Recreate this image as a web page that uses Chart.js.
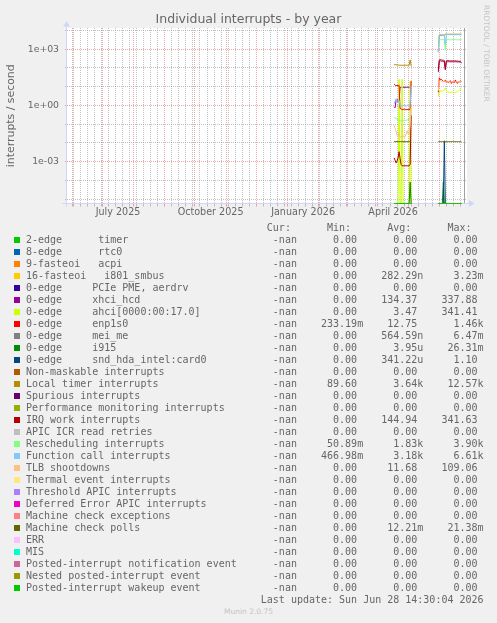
<!DOCTYPE html>
<html><head><meta charset="utf-8">
<title>Individual interrupts - by year</title>
<script src="https://cdn.jsdelivr.net/npm/chart.js@4.4.1/dist/chart.umd.min.js"></script>
<style>
html,body{margin:0;padding:0;background:#f0f0f0;}
#wrap{position:relative;width:497px;height:623px;overflow:hidden;background:#f0f0f0;}
#chart{position:absolute;left:0;top:0;}
.lg{position:absolute;left:26px;height:12px;line-height:12px;font-family:"DejaVu Sans Mono",monospace;font-size:10px;color:#666;white-space:pre;}
.sw{position:absolute;left:14px;width:6px;height:6px;}
#munin{position:absolute;left:0;width:497px;top:606px;height:12px;line-height:12px;text-align:center;font-family:"DejaVu Sans",sans-serif;font-size:7.5px;color:#c4c4c4;}
</style></head>
<body>
<div id="wrap">
<canvas id="chart" width="497" height="225"></canvas>
<div id="legend"></div>
<div id="munin">Munin 2.0.75</div>
</div>
<script>
// ---------- texts ----------
const chartTitle = 'Individual interrupts - by year';
const yAxisTitle = 'interrupts / second';
const watermark = 'RRDTOOL / TOBI OETIKER';
const lastUpdate = 'Last update: Sun Jun 28 14:30:04 2026';

// ---------- tick labels ----------
const xTickLabels = ['July 2025', 'October 2025', 'January 2026', 'April 2026'];
const xTickMonths = ['2025-07-01', '2025-10-01', '2026-01-01', '2026-04-01'];
const yTickValues = [1e3, 1, 1e-3];
const yTickLabels = ['1e+03', '1e+00', '1e-03'];

// ---------- series ----------
const seriesNames = [
  '2-edge      timer', '8-edge      rtc0', '9-fasteoi   acpi', '16-fasteoi   i801_smbus',
  '0-edge     PCIe PME, aerdrv', '0-edge     xhci_hcd', '0-edge     ahci[0000:00:17.0]',
  '0-edge     enp1s0', '0-edge     mei_me', '0-edge     i915', '0-edge     snd_hda_intel:card0',
  'Non-maskable interrupts', 'Local timer interrupts', 'Spurious interrupts',
  'Performance monitoring interrupts', 'IRQ work interrupts', 'APIC ICR read retries',
  'Rescheduling interrupts', 'Function call interrupts', 'TLB shootdowns',
  'Thermal event interrupts', 'Threshold APIC interrupts', 'Deferred Error APIC interrupts',
  'Machine check exceptions', 'Machine check polls', 'ERR', 'MIS',
  'Posted-interrupt notification event', 'Nested posted-interrupt event', 'Posted-interrupt wakeup event'
];
const seriesColors = ['#00CC00','#0066B3','#FF8000','#FFCC00','#330099','#990099','#CCFF00','#FF0000',
  '#808080','#008F00','#00487D','#B35A00','#B38F00','#6B006B','#8FB300','#B30000','#BEBEBE','#80FF80',
  '#80C9FF','#FFC080','#FFE680','#AA80FF','#EE00CC','#FF8080','#666600','#FFBFFF','#00FFCC','#CC6699',
  '#999900','#00CC00'];

// legend statistics
const legendCur = ['-nan','-nan','-nan','-nan','-nan','-nan','-nan','-nan','-nan','-nan','-nan','-nan','-nan','-nan','-nan',
  '-nan','-nan','-nan','-nan','-nan','-nan','-nan','-nan','-nan','-nan','-nan','-nan','-nan','-nan','-nan'];
const legendMin = ['0.00','0.00','0.00','0.00','0.00','0.00','0.00','233.19m','0.00','0.00','0.00','0.00','89.60','0.00','0.00',
  '0.00','0.00','50.89m','466.98m','0.00','0.00','0.00','0.00','0.00','0.00','0.00','0.00','0.00','0.00','0.00'];
const legendAvg = ['0.00','0.00','0.00','282.29n','0.00','134.37','3.47','12.75','564.59n','3.95u','341.22u','0.00','3.64k','0.00','0.00',
  '144.94','0.00','1.83k','3.18k','11.68','0.00','0.00','0.00','0.00','12.21m','0.00','0.00','0.00','0.00','0.00'];
const legendMax = ['0.00','0.00','0.00','3.23m','0.00','337.88','341.41','1.46k','6.47m','26.31m','1.10','0.00','12.57k','0.00','0.00',
  '341.63','0.00','3.90k','6.61k','109.06','0.00','0.00','0.00','0.00','21.38m','0.00','0.00','0.00','0.00','0.00'];

// ---------- time points (daily) ----------
const daysA = ['2026-04-17','2026-04-18','2026-04-19','2026-04-20','2026-04-21','2026-04-22','2026-04-23','2026-04-24',
  '2026-04-25','2026-04-26','2026-04-27','2026-04-28','2026-04-29','2026-04-30','2026-05-01','2026-05-02','2026-05-03','2026-05-04'];
const daysB = ['2026-05-31','2026-06-01','2026-06-02','2026-06-03','2026-06-04','2026-06-05','2026-06-06','2026-06-07',
  '2026-06-08','2026-06-09','2026-06-10','2026-06-11','2026-06-12','2026-06-13','2026-06-14','2026-06-15','2026-06-16',
  '2026-06-17','2026-06-18','2026-06-19','2026-06-20','2026-06-21','2026-06-22','2026-06-23'];
const gapDay = '2026-05-18';
const vruleDay = '2026-06-26';

// ---------- values (interrupts / second) ----------
const zerosA = [0,0,0,0,0,0,0,0,0,0,0,0,0,0,0,0,0,0];
const zerosB = [0,0,0,0,0,0,0,0,0,0,0,0,0,0,0,0,0,0,0,0,0,0,0,0];
const xhciA = [0.85,0.75,1.9,2.2,1.5,1.6,9.3,9.4,9.3,9.3,9.2,9.3,9.3,9.4,9.3,9.2,9.3,12];
const xhciB = [60,230,240,230,230,220,220,80,220,215,215,215,215,215,215,215,215,215,215,210,210,210,205,190];
const ahciA = [0,0,0,0,0,25,0,0,25,0,0,0,0,0,0,0,20,0];
const ahciB = [2.9,6,6,5.8,5.9,6.2,7,8.3,6,5.5,5.2,5,5,5.2,5,4.9,5,5,5.2,5.5,6,6.5,7.5,9];
const enpA = [14,12.5,11,12,11,12,0.7,0.65,0.6,0.6,0.65,0.6,0.6,0.6,0.62,0.6,0.6,20];
const enpB = [5,30,24,25,22,19,20,22,17,20,16,19,21,15,18,19,16,23,17,15,19,18,20,19];
const i915A = [0,0,0,0,0,0,0,0,0,0,0,0,0,0,0,0,0.00008,0];
const i915B = [0,0,0,0,0,0.00008,0,0,0,0,0,0,0,0,0,0,0,0,0,0,0,0,0,0];
const sndB = [0,0,0,0,0,0,0.013,0,0,0,0,0,0,0,0,0,0,0,0,0,0,0,0,0];
const localA = [150,150,150,145,145,140,140,140,140,140,140,140,140,140,140,140,270,130];
const localB = [700,5500,5500,5500,5600,5600,5800,6300,6400,6400,6400,6300,6400,6400,6400,6300,6400,6400,6400,6400,6400,6300,6400,6400];
const irqA = [0.0016,0.0012,0.00085,0.0011,0.0016,0.0034,0.0015,0.0007,0.0006,0.0006,0.0006,0.0006,0.0006,0.0006,0.0006,0.0006,0.0007,0.3];
const irqB = [80,270,280,270,260,260,250,90,240,250,250,240,240,240,240,240,240,240,235,235,230,230,225,200];
const reschedA = [0.24,0.22,0.2,0.18,0.17,0.16,0.15,0.15,0.15,0.15,0.16,0.16,0.16,0.17,0.17,0.19,0.2,0.6];
const reschedB = [700,3300,3300,3200,3300,3300,3300,900,3300,3300,3300,3200,3200,3200,3300,3300,3300,3300,3200,3200,3200,3300,3300,3300];
const funcA = [1.2,1.7,2.3,1.8,2.0,1.9,1.0,0.9,0.95,1.0,1.0,0.95,0.9,1.0,1.05,1.0,1.0,12];
const funcB = [700,6300,6300,6200,6100,6000,6000,1800,6000,6100,6000,6000,6000,6000,6000,6000,6000,6000,6000,6000,6000,6000,6000,6000];
const tlbA = [0.09,0.06,0.04,0.025,0.022,0.035,0.02,0.022,0.02,0.025,0.02,0.022,0.03,0.045,0.03,0.03,0.1,1.0];
const tlbB = [6,20,21,20,19,19,20,19,18,19,18,18,18,18,18,19,18,18,18,18,19,19,19,19];
const mcpA = [0.0117,0.0117,0.0117,0.0117,0.0117,0.0117,0.0117,0.0117,0.0117,0.0117,0.0117,0.0117,0.0117,0.0117,0.0117,0.0117,0.0117,0.0117];
const mcpB = [0.0117,0.0117,0.0117,0.0117,0.0117,0.0117,0.0117,0.0117,0.0117,0.0117,0.0117,0.0117,0.0117,0.0117,0.0117,0.0117,0.0117,0.0117,0.0117,0.0117,0.0117,0.0117,0.0117,0.0117];

const seriesValues = [
  [zerosA, zerosB], [zerosA, zerosB], [zerosA, zerosB], [zerosA, zerosB], [zerosA, zerosB],
  [xhciA, xhciB], [ahciA, ahciB], [enpA, enpB], [zerosA, zerosB], [i915A, i915B], [zerosA, sndB],
  [zerosA, zerosB], [localA, localB], [zerosA, zerosB], [zerosA, zerosB], [irqA, irqB], [zerosA, zerosB],
  [reschedA, reschedB], [funcA, funcB], [tlbA, tlbB], [zerosA, zerosB], [zerosA, zerosB], [zerosA, zerosB],
  [zerosA, zerosB], [mcpA, mcpB], [zerosA, zerosB], [zerosA, zerosB], [zerosA, zerosB], [zerosA, zerosB], [zerosA, zerosB]
];

// ---------- helpers ----------
const DAY = 86400000;
function ms(s) { const p = s.split('-').map(Number); return Date.UTC(p[0], p[1] - 1, p[2]); }
const xMin = Date.UTC(2025, 4, 26, 17, 30);
const xMax = Date.UTC(2026, 5, 28, 13, 0);
const yMin = Math.pow(10, -5.235);
const yMax = Math.pow(10, 4.135);
const MAJOR = 'rgba(222,79,79,0.5)';
const MINOR = 'rgba(143,143,143,0.55)';

function toPoints(a, b) {
  const out = [];
  daysA.forEach((d, i) => out.push({ x: ms(d), y: a[i] === 0 ? yMin : a[i] }));
  out.push({ x: ms(gapDay), y: null });
  daysB.forEach((d, i) => out.push({ x: ms(d), y: b[i] === 0 ? yMin : b[i] }));
  return out;
}

const N = seriesNames.length;
const datasets = seriesNames.map((name, i) => ({
  label: name,
  data: toPoints(seriesValues[i][0], seriesValues[i][1]),
  borderColor: seriesColors[i],
  backgroundColor: seriesColors[i],
  borderWidth: 1,
  pointRadius: 0,
  fill: false,
  spanGaps: false,
  tension: 0,
  order: N - 1 - i,
  clip: { left: 1, right: 1, top: 1, bottom: 1 }
}));

function buildXTicks(scale) {
  const lo = scale.min, hi = scale.max, out = [];
  for (let m = 0; m < 16; m++) {
    const v = Date.UTC(2025, 4 + m, 1);
    if (v >= lo && v <= hi) out.push({ value: v, kind: 'major' });
  }
  for (let v = Date.UTC(2025, 4, 26); v <= hi; v += 7 * DAY) {
    if (v < lo) continue;
    if (new Date(v).getUTCDate() !== 1) out.push({ value: v, kind: 'minor' });
  }
  xTickMonths.forEach((s, i) => {
    const a = ms(s); const d = new Date(a);
    const b = Date.UTC(d.getUTCFullYear(), d.getUTCMonth() + 1, 1);
    out.push({ value: (a + b) / 2, kind: 'label', text: xTickLabels[i] });
  });
  out.sort((p, q) => p.value - q.value);
  scale.ticks = out;
}
function buildYTicks(scale) {
  const out = [];
  for (let e = -5; e <= 4; e++) {
    out.push({ value: Math.pow(10, e), isMajor: yTickValues.some(t => Math.round(Math.log10(t)) === e) });
  }
  scale.ticks = out;
}
function xGridColor(ctx) {
  const t = ctx.tick; if (!t) return MINOR;
  return t.kind === 'major' ? MAJOR : (t.kind === 'minor' ? MINOR : 'rgba(0,0,0,0)');
}
function yGridColor(ctx) {
  const t = ctx.tick; if (!t) return MINOR;
  return t.isMajor ? MAJOR : MINOR;
}

const decor = {
  id: 'decor',
  beforeDraw(chart) {
    const { ctx, chartArea: a } = chart;
    ctx.save();
    ctx.fillStyle = '#f0f0f0'; ctx.fillRect(0, 0, chart.width, chart.height);
    ctx.fillStyle = '#ffffff'; ctx.fillRect(a.left, a.top, a.right - a.left, a.bottom - a.top);
    ctx.restore();
  },
  beforeDatasetsDraw(chart) {
    const { ctx, chartArea: a, scales } = chart;
    ctx.save();
    const vx = Math.round(scales.x.getPixelForValue(ms(vruleDay))) + 0.5;
    ctx.strokeStyle = '#a0a0a0'; ctx.lineWidth = 1;
    ctx.beginPath(); ctx.moveTo(vx, a.top); ctx.lineTo(vx, a.bottom); ctx.stroke();
    const ax = Math.round(a.left) - 0.5, ay = Math.floor(a.bottom) + 0.5;
    ctx.strokeStyle = '#CFD6F8'; ctx.fillStyle = '#CFD6F8';
    ctx.beginPath(); ctx.moveTo(ax, ay + 3); ctx.lineTo(ax, a.top - 4); ctx.stroke();
    ctx.beginPath(); ctx.moveTo(ax, a.top - 7); ctx.lineTo(ax - 3.5, a.top - 1.5); ctx.lineTo(ax + 3.5, a.top - 1.5); ctx.closePath(); ctx.fill();
    ctx.beginPath(); ctx.moveTo(ax - 4, ay); ctx.lineTo(a.right + 3, ay); ctx.stroke();
    ctx.beginPath(); ctx.moveTo(a.right + 7.5, ay); ctx.lineTo(a.right + 2, ay - 3.5); ctx.lineTo(a.right + 2, ay + 3.5); ctx.closePath(); ctx.fill();
    ctx.restore();
  },
  afterDraw(chart) {
    const { ctx, chartArea: a } = chart;
    ctx.save();
    ctx.fillStyle = '#666666';
    ctx.textAlign = 'center'; ctx.textBaseline = 'alphabetic';
    ctx.font = '12.5px "DejaVu Sans"';
    ctx.fillText(chartTitle, chart.width / 2, 22.6);
    ctx.save();
    ctx.translate(13.8, (a.top + a.bottom) / 2);
    ctx.rotate(-Math.PI / 2);
    ctx.font = '10.9px "DejaVu Sans"';
    ctx.fillText(yAxisTitle, 0, 0);
    ctx.restore();
    ctx.save();
    ctx.translate(484.4, 53.3);
    ctx.rotate(Math.PI / 2);
    ctx.font = '7.5px "DejaVu Sans"';
    ctx.fillStyle = '#c4c4c4';
    ctx.fillText(watermark, 0, 0);
    ctx.restore();
    ctx.restore();
  }
};

new Chart(document.getElementById('chart'), {
  type: 'line',
  data: { datasets },
  options: {
    responsive: false, animation: false, devicePixelRatio: 1,
    layout: { padding: { left: 0, right: 30, top: 28, bottom: 0 } },
    plugins: { legend: { display: false }, tooltip: { enabled: false }, title: { display: false } },
    elements: { point: { radius: 0 }, line: { borderWidth: 1, tension: 0 } },
    scales: {
      x: {
        type: 'linear', min: xMin, max: xMax, bounds: 'data',
        afterBuildTicks: buildXTicks,
        afterFit(s) { s.height = 21.5; },
        grid: { color: xGridColor, tickColor: xGridColor, lineWidth: 1, drawTicks: true, tickLength: 3 },
        border: { display: false, dash: [1, 1] },
        ticks: {
          autoSkip: false, maxRotation: 0, minRotation: 0, padding: 0, color: '#666666',
          font: { family: 'DejaVu Sans', size: 9.6 },
          callback(value, index, ticks) { const t = ticks[index]; return t && t.kind === 'label' ? t.text : ''; }
        }
      },
      y: {
        type: 'logarithmic', min: yMin, max: yMax, bounds: 'data',
        afterBuildTicks: buildYTicks,
        afterFit(s) { s.width = 67; },
        grid: { color: yGridColor, tickColor: yGridColor, lineWidth: 1, drawTicks: true, tickLength: 2 },
        border: { display: false, dash: [1, 1] },
        ticks: {
          autoSkip: false, padding: 6, color: '#666666',
          font: { family: 'DejaVu Sans', size: 9.3 },
          callback(value) {
            const i = yTickValues.findIndex(t => Math.round(Math.log10(t)) === Math.round(Math.log10(value)));
            return i >= 0 ? yTickLabels[i] : '';
          }
        }
      }
    }
  },
  plugins: [decor]
});

// ---------- legend table ----------
const legendEl = document.getElementById('legend');
function fld(s) {
  if (s === '-nan') return '  -nan ';
  const last = s.slice(-1);
  let num = s, suf = ' ';
  if (/[a-zA-Z]/.test(last)) { num = s.slice(0, -1); suf = last; }
  return num.padStart(6, ' ') + suf;
}
function addRow(text, cy, color) {
  const d = document.createElement('div');
  d.className = 'lg'; d.style.top = Math.round(cy - 6) + 'px'; d.textContent = text;
  legendEl.appendChild(d);
  if (color) {
    const s = document.createElement('div');
    s.className = 'sw'; s.style.top = Math.round(cy - 3) + 'px'; s.style.background = color;
    legendEl.appendChild(s);
  }
}
addRow(' '.repeat(40) + 'Cur:' + ' '.repeat(6) + 'Min:' + ' '.repeat(6) + 'Avg:' + ' '.repeat(6) + 'Max:', 228.3);
seriesNames.forEach((n, i) => addRow(
  n.padEnd(39) + fld(legendCur[i]) + '   ' + fld(legendMin[i]) + '   ' + fld(legendAvg[i]) + '   ' + fld(legendMax[i]),
  239.7 + 12 * i, seriesColors[i]));
addRow(' '.repeat(39) + lastUpdate, 599.7);
</script>
</body></html>
